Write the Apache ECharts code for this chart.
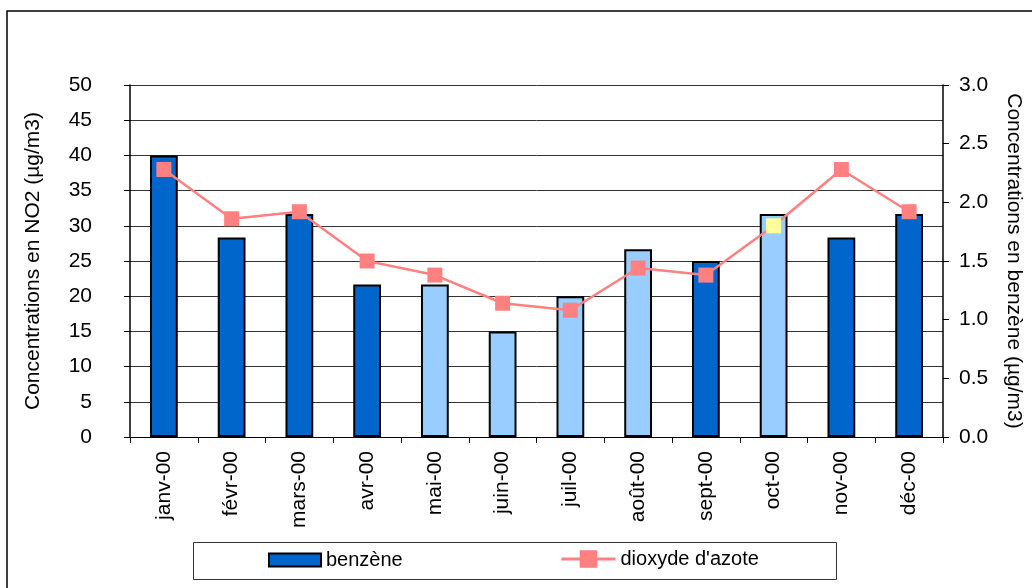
<!DOCTYPE html>
<html>
<head>
<meta charset="utf-8">
<script src="https://cdn.jsdelivr.net/npm/echarts@6/dist/echarts.min.js"></script>
<style>
html,body{margin:0;padding:0;background:#fff;}
#chart{width:1032px;height:588px;}
</style>
</head>
<body>
<div id="chart"></div>
<script>
// ---- data ----
const months = ['janv-00','févr-00','mars-00','avr-00','mai-00','juin-00','juil-00','août-00','sept-00','oct-00','nov-00','déc-00'];
const benzene = [2.4, 1.7, 1.9, 1.3, 1.3, 0.9, 1.2, 1.6, 1.5, 1.9, 1.7, 1.9];
const no2 = [38, 31, 32, 25, 23, 19, 18, 24, 23, 30, 38, 32];
const leftTicks = [0, 50, 5];
const rightTicks = [0, 3, 0.5];

// ---- styles ----
const DARK = '#0066CC', LIGHT = '#99CCFF', LINE = '#FF8080', YELLOW = '#FFFF99';
const lightIdx = [4, 5, 6, 7, 9];
const yellowIdx = [9];
const FONT = 'Liberation Sans, Arial, sans-serif';
const FS = 21;
const LFS = 20;

const chart = echarts.init(document.getElementById('chart'), null, {renderer: 'canvas'});

const barData = benzene.map((v, i) => ({
  value: v,
  itemStyle: { color: lightIdx.includes(i) ? LIGHT : DARK }
}));
const lineData = no2.map((v, i) => yellowIdx.includes(i)
  ? { value: v, itemStyle: { color: YELLOW } } : v);

chart.setOption({
  animation: false,
  textStyle: { fontFamily: FONT, color: '#000' },
  grid: { left: 130, right: 86, top: 85, bottom: 151, containLabel: false },
  graphic: [
    { type: 'rect', shape: { x: 7, y: 11, width: 1100, height: 700 },
      style: { fill: 'none', stroke: '#000', lineWidth: 1.5 }, z: -1 },
    { type: 'rect', shape: { x: 193.5, y: 542.5, width: 643, height: 37 },
      style: { fill: '#fff', stroke: '#333', lineWidth: 1 }, z: 0 }
  ],
  legend: [
    { data: [{ name: 'benzène', icon: 'rect' }], left: 268, top: 550, padding: 0,
      itemWidth: 52, itemHeight: 13, itemGap: 6,
      itemStyle: { borderColor: '#000', borderWidth: 2 },
      textStyle: { fontFamily: FONT, fontSize: LFS, color: '#000' }, z: 5 },
    { data: ["dioxyde d'azote"], left: 560, top: 549, padding: 0,
      itemWidth: 54, itemHeight: 22, itemGap: 6,
      lineStyle: { width: 3 },
      textStyle: { fontFamily: FONT, fontSize: LFS, color: '#000' }, z: 5 }
  ],
  xAxis: {
    type: 'category', data: months, boundaryGap: true,
    axisLine: { lineStyle: { color: '#000', width: 1 } },
    axisTick: { show: true, alignWithLabel: false, length: 6, lineStyle: { color: '#000' } },
    axisLabel: { rotate: 90, margin: 14, fontSize: FS, color: '#000', fontFamily: FONT, interval: 0 }
  },
  yAxis: [
    {
      type: 'value', min: leftTicks[0], max: leftTicks[1], interval: leftTicks[2],
      name: 'Concentrations en NO2 (µg/m3)', nameLocation: 'middle', nameGap: 86, nameRotate: 90,
      nameTextStyle: { fontSize: FS, color: '#000', fontFamily: FONT },
      axisLine: { show: true, lineStyle: { color: '#000', width: 1.5 } },
      axisTick: { show: true, length: 6, lineStyle: { color: '#000' } },
      axisLabel: { fontSize: FS, color: '#000', margin: 38, fontFamily: FONT },
      splitLine: { show: true, lineStyle: { color: '#333', width: 1 } }
    },
    {
      type: 'value', min: rightTicks[0], max: rightTicks[1], interval: rightTicks[2],
      name: 'Concentrations en benzène (µg/m3)', nameLocation: 'middle', nameGap: 60, nameRotate: -90,
      nameTextStyle: { fontSize: FS, color: '#000', fontFamily: FONT },
      axisLine: { show: true, lineStyle: { color: '#000', width: 1.5 } },
      axisTick: { show: true, length: 6, lineStyle: { color: '#000' } },
      axisLabel: { fontSize: FS, color: '#000', margin: 16, fontFamily: FONT,
        formatter: v => v.toFixed(1) },
      splitLine: { show: false }
    }
  ],
  series: [
    {
      name: 'benzène', type: 'bar', yAxisIndex: 1, data: barData, barWidth: '41%',
      itemStyle: { color: DARK, borderColor: '#000', borderWidth: 2 }, z: 2
    },
    {
      name: "dioxyde d'azote", type: 'line', yAxisIndex: 0, data: lineData,
      symbol: 'rect', symbolSize: 15, showAllSymbol: true,
      lineStyle: { color: LINE, width: 2.5 },
      itemStyle: { color: LINE, borderWidth: 0 }, z: 3
    }
  ]
});
</script>
</body>
</html>
